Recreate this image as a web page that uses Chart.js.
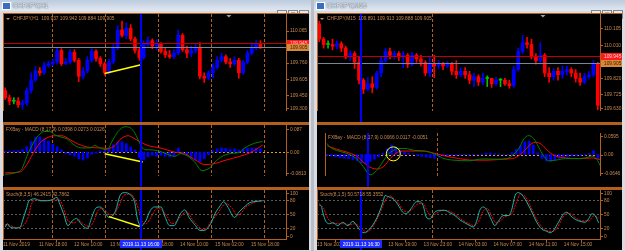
<!DOCTYPE html>
<html lang="en">
<head>
<meta charset="UTF-8">
<title>CHFJPY H1 / M15</title>
<script src="https://cdn.jsdelivr.net/npm/chart.js"></script>
<style>
  body { margin: 0; width: 625px; height: 251px; overflow: hidden; background: #b9bec6; font-family: "Liberation Sans", Arial, sans-serif; }
  .win { position: absolute; top: 0; height: 251px; background: #d8dce2; }
  .tb { position: absolute; left: 0; right: 0; top: 0; height: 11px; background: linear-gradient(#bccbdf, #e2e8f0); }
  .tb .ico { position: absolute; left: 2px; top: 2px; width: 7px; height: 6px; background: #3a6fc0; border: 1px solid #fff; }
  .tb .tt { position: absolute; left: 13px; top: 1px; font-size: 6.6px; line-height: 9px; color: #fff; text-shadow: 0 0 1px #3d4d66, 0 0 1px #3d4d66; }
  .tb .btns { position: absolute; right: 2px; top: 2px; }
  .tb .btns i { display: inline-block; width: 8px; height: 7px; margin-left: 1px; background: #e8e8e8; border: 1px solid #7d8794; font-style: normal; font-size: 6px; line-height: 7px; text-align: center; color: #000; }
  .box { position: absolute; top: 13px; height: 237px; background: #b4601c; }
  .box canvas { position: absolute; left: 0; display: block; background: #000; }
</style>
</head>
<body>

<div class="win" style="left:0;width:311px">
  <div class="tb"><span class="ico"></span><span class="tt">CHFJPY,H1</span><span class="btns"><i>_</i><i>□</i><i>×</i></span></div>
  <div class="box" style="left:3px;width:306px">
    <canvas id="h1Price" width="306" height="108" style="top:1px"></canvas>
    <canvas id="h1Macd" width="306" height="62" style="top:112px"></canvas>
    <canvas id="h1Stoch" width="306" height="60" style="top:177px"></canvas>
  </div>
</div>

<div class="win" style="left:314px;width:311px">
  <div class="tb"><span class="ico"></span><span class="tt">CHFJPY,M15</span><span class="btns"><i>_</i><i>□</i><i>×</i></span></div>
  <div class="box" style="left:3px;width:305px">
    <canvas id="m15Price" width="305" height="108" style="top:1px"></canvas>
    <canvas id="m15Macd" width="305" height="62" style="top:112px"></canvas>
    <canvas id="m15Stoch" width="305" height="60" style="top:177px"></canvas>
  </div>
</div>

<script>
// ---------- H1 window data ----------
const h1Open = [109.495,109.427,109.393,109.393,109.359,109.376,109.495,109.596,109.681,109.664,
  109.732,109.749,109.766,109.876,109.749,109.766,109.859,109.783,109.630,109.681,
  109.783,109.867,109.800,109.749,109.664,109.766,109.901,110.071,110.020,110.088,
  109.986,109.876,109.808,109.935,109.969,109.918,109.935,109.867,109.834,109.817,
  109.851,110.020,109.884,109.851,109.876,109.901,109.630,109.613,109.664,109.715,
  109.783,109.817,109.766,109.749,109.783,109.664,109.766,109.851,109.901,109.935];
const h1High = [109.520,109.452,109.427,109.427,109.402,109.520,109.664,109.724,109.715,109.766,
  109.774,109.791,109.901,109.893,109.800,109.884,109.884,109.800,109.715,109.817,
  109.893,109.884,109.817,109.766,109.791,109.935,110.113,110.155,110.139,110.122,
  110.003,109.901,109.969,110.003,109.986,109.978,109.952,109.901,109.876,109.884,
  110.071,110.037,109.918,109.918,109.935,109.952,109.664,109.681,109.749,109.817,
  109.851,109.834,109.800,109.817,109.800,109.783,109.876,109.952,109.969,109.969];
const h1Low = [109.410,109.359,109.368,109.334,109.317,109.351,109.469,109.580,109.639,109.647,
  109.715,109.732,109.749,109.732,109.740,109.749,109.766,109.580,109.605,109.664,
  109.766,109.774,109.724,109.639,109.647,109.749,109.884,110.003,109.986,109.969,
  109.851,109.783,109.791,109.918,109.893,109.884,109.851,109.808,109.800,109.800,
  109.834,109.867,109.808,109.817,109.851,109.605,109.571,109.596,109.613,109.698,
  109.766,109.749,109.715,109.732,109.613,109.647,109.749,109.834,109.884,109.893];
const h1Close = [109.427,109.393,109.393,109.359,109.376,109.495,109.596,109.681,109.664,109.732,
  109.749,109.766,109.876,109.749,109.766,109.859,109.783,109.630,109.681,109.783,
  109.867,109.800,109.749,109.664,109.766,109.901,110.071,110.020,110.088,109.986,
  109.876,109.808,109.935,109.969,109.918,109.935,109.867,109.834,109.817,109.851,
  110.020,109.884,109.851,109.876,109.901,109.630,109.613,109.664,109.715,109.783,
  109.817,109.766,109.749,109.783,109.664,109.766,109.851,109.901,109.935,109.905];

const h1Hist = [0.003,0.004,0.005,0.006,0.010,0.020,0.040,0.055,0.058,0.050,
  0.042,0.030,0.020,0.008,-0.005,-0.010,-0.015,-0.025,-0.030,-0.022,
  -0.008,-0.004,0.004,0.006,0.015,0.028,0.038,0.040,0.032,0.020,
  0.008,-0.020,-0.030,-0.018,-0.012,-0.015,-0.012,-0.016,-0.018,-0.014,
  0.015,-0.006,-0.012,-0.022,-0.030,-0.036,-0.025,-0.010,0.004,0.012,
  0.016,0.014,0.010,0.012,0.008,0.012,0.014,0.016,0.015,0.013];
const h1MainIdx = [0,2.3,3.9,5,6.4,7.6,9.2,10.3,11.5,13.1,14.3,16.1,17.7,19.6,20.7,21.9,23.5,24.9,26.1,27.7,
  28.8,30,31.1,32.3,33.4,35.8,38.1,39.2,40.4,41.5,43.8,45.5,47.3,48.5,50.1,51.9,54.2,55.4,57.7,59.5];
const h1Main = [-0.084,-0.078,-0.062,-0.016,0.031,0.062,0.078,0.078,0.065,0.056,0.050,0.025,0.016,0.016,0.025,0.016,0.009,0.047,0.078,0.096,
  0.093,0.071,0.034,0.009,0.009,0.003,-0.012,-0.016,-0.006,-0.009,-0.037,-0.070,-0.059,-0.037,-0.016,-0.006,0.000,0.016,0.034,0.040];
const h1SigIdx = [0,3.4,5,6.4,8,9.9,11.5,13.1,15,16.8,19.1,21.9,23.7,25.4,26.5,28.4,30,31.1,33,35.8,
  39.2,41.5,43.8,46.1,48.5,50.8,54.2,56.5,58.8,59.5];
const h1Sig = [-0.078,-0.075,-0.047,-0.006,0.034,0.056,0.062,0.062,0.047,0.031,0.019,0.016,0.014,0.025,0.047,0.062,0.050,0.040,0.025,0.016,
  0.000,-0.006,-0.028,-0.047,-0.043,-0.031,-0.016,-0.003,0.019,0.027];

const h1StMainIdx = [0,0.5,1,2.5,3.5,4,5,5.5,7,8,9,10.5,12,12.5,13.5,14.5,15.5,16.5,17.5,19,
  20,21,22,23,24,25.5,26.5,27.5,29,30,30.5,31.5,32,32.5,33.5,34.5,36,37,38,39,
  40.5,41.5,42.5,44,45,46,47.5,48.5,49.5,50.5,51.5,53,54,55.5,56.5,57.5,59.5];
const h1StMain = [23,30,24,21,23,36,64,78,82,78,78,79,85,74,51,26,36,41,30,20,
  43,63,65,54,43,57,88,95,90,72,43,24,30,36,57,65,65,43,26,26,
  51,59,43,26,16,16,30,51,65,76,64,43,54,67,74,76,78];
const h1StSigIdx = [0,1,2.5,4,5.5,6,7.5,9,11.5,12.5,13.5,14.5,16,17,18,19.5,20.5,21.5,22.5,24,
  25,26.5,27.5,29,30,31,32,32.5,34,35,36,37.5,38.5,39.5,41,42,43,44.5,45.5,46.5,
  47.5,49,50,51,52.5,53.5,54.5,55.5,57,58,59.5];
const h1StSig = [28,27,22,25,48,70,80,78,80,80,62,36,32,38,30,24,36,58,62,50,
  48,72,90,92,80,56,30,30,48,62,60,44,30,34,50,55,42,26,18,20,
  34,50,64,72,62,48,52,64,72,76,78];

const h1TimeIdx = [-0.5, 7.8, 15.9, 24.2, 32.3, 40.4, 48.5, 56.8];
const h1TimeText = ['11 Nov 2019', '11 Nov 18:00', '12 Nov 10:00', '13 Nov 02:00', '13 Nov 18:00', '14 Nov 10:00', '15 Nov 02:00', '15 Nov 18:00'];
const h1GridIdx = [10.8, 23.1, 35.3, 47.6, 59.8];
const h1PriceTicks = [110.065, 109.915, 109.760, 109.605, 109.450, 109.300];
const h1MacdTicks = [0.087, 0, -0.0813];
const h1MacdText = ['0.087', '0.00', '-0.0813'];
const h1TrendPrice = [[23.0, 109.656], [31.4, 109.740]];
const h1TrendMacd = [[23.0, -0.006], [31.8, -0.037]];
const h1TrendStoch = [[24.0, 44.8], [31.1, 24.1]];

// ---------- M15 window data ----------
const m15Open = [110.131,110.043,110.012,110.012,110.002,110.017,109.991,109.940,109.960,109.909,
  109.806,109.754,109.785,109.764,109.847,109.919,109.971,109.950,109.960,109.940,
  109.950,109.898,109.950,109.929,109.909,109.847,109.898,109.888,109.898,109.888,
  109.898,109.857,109.837,109.857,109.837,109.806,109.826,109.795,109.816,109.816,
  109.785,109.806,109.806,109.785,109.775,109.867,109.971,110.022,110.012,109.940,
  109.919,109.950,109.847,109.826,109.857,109.837,109.857,109.867,109.847,109.816,
  109.795,109.826,109.837,109.898];
const m15High = [110.146,110.053,110.033,110.043,110.033,110.028,110.002,109.976,109.971,109.940,
  109.816,109.821,109.826,109.857,109.940,109.991,109.991,109.976,109.971,109.971,
  109.960,109.966,109.960,109.950,109.919,109.940,109.950,109.919,109.909,109.914,
  109.909,109.919,109.878,109.878,109.857,109.847,109.837,109.847,109.831,109.816,
  109.821,109.816,109.816,109.806,109.888,109.991,110.064,110.053,110.043,109.960,
  110.022,109.960,109.878,109.873,109.878,109.888,109.888,109.878,109.867,109.847,
  109.847,109.857,109.919,109.909];
const m15Low = [110.028,109.991,109.991,109.981,109.986,109.971,109.929,109.919,109.873,109.785,
  109.728,109.744,109.733,109.754,109.826,109.909,109.929,109.929,109.919,109.878,
  109.878,109.888,109.909,109.888,109.831,109.826,109.821,109.873,109.867,109.878,
  109.837,109.816,109.826,109.816,109.785,109.769,109.775,109.780,109.769,109.764,
  109.775,109.769,109.775,109.759,109.764,109.857,109.960,109.991,109.929,109.898,
  109.898,109.826,109.795,109.806,109.806,109.816,109.837,109.826,109.795,109.775,
  109.785,109.816,109.826,109.635];
const m15Close = [110.043,110.012,110.012,110.002,110.017,109.991,109.940,109.960,109.909,109.806,
  109.754,109.785,109.764,109.847,109.919,109.971,109.950,109.960,109.940,109.950,
  109.898,109.950,109.929,109.909,109.847,109.898,109.888,109.898,109.888,109.898,
  109.857,109.837,109.857,109.837,109.806,109.826,109.795,109.816,109.816,109.785,
  109.806,109.806,109.785,109.775,109.867,109.971,110.022,110.012,109.940,109.919,
  109.950,109.847,109.826,109.857,109.837,109.857,109.867,109.847,109.816,109.795,
  109.826,109.837,109.898,109.661];

const m15Hist = [-0.003,-0.005,-0.008,-0.010,-0.012,-0.013,-0.016,-0.020,-0.026,-0.030,
  -0.022,-0.015,-0.008,0.004,0.018,0.030,0.024,0.014,0.007,0.004,
  0.002,-0.004,-0.006,-0.008,-0.010,-0.012,-0.008,-0.004,-0.003,-0.002,
  -0.003,-0.002,-0.001,-0.002,0.001,-0.001,0.002,0.004,0.005,0.003,
  0.002,0.001,0.001,0.006,0.016,0.028,0.040,0.042,0.030,0.005,
  -0.012,-0.020,-0.022,-0.018,-0.012,-0.008,-0.006,-0.004,-0.003,-0.002,
  -0.002,0.004,0.012,-0.012];
const m15MainIdx = [0,0.6,2.2,4.5,6.8,8.4,9.5,10,10.6,11.8,13.1,14.3,15.4,16.5,18.1,20.4,22.6,24.9,27.2,29.5,
  32.9,36.3,39.7,41.9,43.5,44.7,45.8,46.9,48.1,49.2,50.4,51.5,53.2,55.5,57.8,60.1,61.6,62.8,63.5];
const m15Main = [0.035,0.024,0.013,0.004,-0.013,-0.038,-0.060,-0.064,-0.062,-0.046,-0.020,0.002,0.013,0.019,0.019,0.013,0.011,0.002,-0.013,-0.018,
  -0.020,-0.014,-0.015,-0.013,0.002,0.021,0.050,0.060,0.050,0.024,-0.005,-0.020,-0.018,-0.013,-0.013,-0.011,-0.005,-0.016,-0.035];
const m15SigIdx = [0,2.2,4.5,6.8,8.6,10.2,11.8,13.1,14.7,15.8,17.4,19.2,22.6,24.9,27.2,30.6,34,37.4,40.8,43.1,
  44.9,46.5,47.6,48.5,49.9,51.5,53.2,55.5,58.9,61.6,63.5];
const m15Sig = [0.028,0.017,0.008,-0.005,-0.027,-0.042,-0.046,-0.038,-0.013,0.002,0.011,0.011,0.011,0.004,-0.004,-0.013,-0.018,-0.018,-0.015,-0.013,
  -0.001,0.021,0.035,0.039,0.032,0.010,-0.005,-0.011,-0.013,-0.011,-0.016];

const m15StMainIdx = [0,0.5,0.8,1.5,2.3,3.1,4.2,5.3,6.5,7.6,8.7,9.5,10.2,11.4,12.5,13.6,14.4,14.9,15.5,16.7,
  17.8,18.9,19.7,20.8,22,22.7,23.5,24.2,25,26.1,27.3,28.4,29.5,30.7,31.8,32.9,34.1,34.8,35.6,36.3,
  37.1,37.8,39,39.7,40.5,41.6,42.8,43.5,44.3,45,45.9,46.9,48.1,49.2,50.3,51.5,52.2,53,54.1,55.3,
  56,56.8,57.9,59,60.2,60.9,61.7,62.4,63.2];
const m15StMain = [69,66,54,35,30,32,26,33,26,35,23,14,11,19,33,54,75,89,87,82,
  70,54,51,62,76,76,68,44,40,54,58,58,53,47,38,32,26,23,35,58,
  65,60,37,26,35,47,47,58,89,95,90,76,54,33,19,14,11,16,33,51,
  54,47,39,35,33,40,51,47,32];
const m15StSigIdx = [0,1,2,3,4.5,5.5,7,8,9,10,11,12,13,14,15,16,17,18,19,20,
  21,22.5,23.5,24.5,25.5,26.5,28,29.5,31,32,33.5,35,36,37,38,39,40,41,42,43.5,
  44.5,45.5,46.5,47.5,48.5,49.5,50.5,52,53,54,55,56,57,58,59.5,61,62,63.2];
const m15StSig = [72,62,40,32,30,30,28,30,25,16,13,22,38,58,80,88,82,72,58,55,
  60,72,72,55,44,52,58,56,48,40,32,26,34,55,62,46,32,36,45,50,
  72,92,88,72,52,34,22,14,14,24,42,52,50,42,36,36,46,42];

const m15TimeIdx = [-0.5, 7.7, 15.6, 23.6, 31.5, 39.4, 47.4, 55.3];
const m15TimeText = ['13 Nov 2019', '13 Nov 15:00', '13 Nov 19:00', '13 Nov 23:00', '14 Nov 03:00', '14 Nov 07:00', '14 Nov 11:00', '14 Nov 15:00'];
const m15GridIdx = [25.6];
const m15PriceTicks = [110.105, 110.010, 109.915, 109.820, 109.725, 109.630];
const m15MacdTicks = [0.0595, 0, -0.0646];
const m15MacdText = ['0.0595', '0.00', '-0.0646'];
const m15Circle = [[15.4, 0.002]];

const stochTicks = [100, 80, 50, 20, 0];
const stochLevels = [80, 50, 20];

// ---------- look ----------
const FAM = '"Liberation Sans", Arial, sans-serif';
const FONT = '4.8px ' + FAM;
const ORANGE = '#b4601c';
const TXT = '#c98b50';
const BULL = '#0000ff', BEAR = '#ff0000', DOJI = '#00c000';

function candles(o, h, l, c) {
  const col = o.map((v, i) => c[i] > v ? BULL : c[i] < v ? BEAR : DOJI);
  return [
    { type: 'bar', order: 3, grouped: false, barThickness: 1, backgroundColor: col,
      data: l.map((v, i) => ({ x: i, y: [v, h[i]] })) },
    { type: 'bar', order: 2, grouped: false, barThickness: 3, minBarLength: 1, backgroundColor: col,
      data: o.map((v, i) => ({ x: i, y: [v, c[i]] })) }
  ];
}
function histo(vals) {
  return { type: 'bar', order: 2, grouped: false, barThickness: 2, backgroundColor: '#0000ff',
    data: vals.map((v, i) => ({ x: i, y: v })) };
}
function curve(xs, ys, color, dash) {
  return { type: 'line', order: 1, data: xs.map((v, i) => ({ x: v, y: ys[i] })), borderColor: color,
    borderWidth: 1, borderDash: dash || [], pointRadius: 0, cubicInterpolationMode: 'monotone', fill: false };
}
function trend(pts) {
  return { type: 'line', order: 0, data: pts.map(p => ({ x: p[0], y: p[1] })), borderColor: '#ffff00',
    borderWidth: 1.5, pointRadius: 0, tension: 0, fill: false };
}

// MetaTrader style decorations (grid, levels, cursor, axis labels, captions)
function mtDecor(cfg) {
  return {
    id: 'mtDecor',
    beforeDatasetsDraw(chart) {
      const { ctx, chartArea: a, scales: { x, y } } = chart;
      ctx.save();
      ctx.beginPath(); ctx.rect(a.left, a.top, a.right - a.left, a.bottom - a.top); ctx.clip();
      ctx.lineWidth = 1;
      ctx.setLineDash([3, 2]);
      ctx.strokeStyle = ORANGE;
      (cfg.grid || []).forEach(v => {
        const px = Math.round(x.getPixelForValue(v)) + 0.5;
        ctx.beginPath(); ctx.moveTo(px, a.top); ctx.lineTo(px, a.bottom); ctx.stroke();
      });
      ctx.setLineDash([2, 2]);
      (cfg.levels || []).forEach(v => {
        ctx.strokeStyle = cfg.levelColor;
        const py = Math.round(y.getPixelForValue(v)) + 0.5;
        ctx.beginPath(); ctx.moveTo(a.left, py); ctx.lineTo(a.right, py); ctx.stroke();
      });
      ctx.restore();
    },
    afterDatasetsDraw(chart) {
      const { ctx, chartArea: a, scales: { x, y } } = chart;
      ctx.save();
      // bid / ask lines
      (cfg.hlines || []).forEach(l => {
        const py = Math.round(y.getPixelForValue(l.value)) + 0.5;
        ctx.strokeStyle = l.line; ctx.lineWidth = 1;
        ctx.beginPath(); ctx.moveTo(a.left, py); ctx.lineTo(a.right, py); ctx.stroke();
      });
      // vertical cursor line
      if (cfg.cursor != null) {
        const px = Math.round(x.getPixelForValue(cfg.cursor));
        ctx.fillStyle = '#0000ff';
        ctx.fillRect(px - 1, a.top, 2, chart.height - a.top);
      }
      // pane borders
      ctx.fillStyle = ORANGE;
      ctx.fillRect(a.left, a.top, 1, a.bottom - a.top);
      ctx.fillRect(a.right, a.top, 1, a.bottom - a.top);
      if (cfg.xLabels) ctx.fillRect(a.left, a.bottom, a.right - a.left + 1, 1);
      // right axis labels
      ctx.font = FONT; ctx.textBaseline = 'middle'; ctx.textAlign = 'left';
      cfg.yTicks.forEach((v, i) => {
        let py = y.getPixelForValue(v);
        py = Math.min(Math.max(py, a.top + 3), a.bottom - 3);
        ctx.fillStyle = ORANGE;
        ctx.fillRect(a.right + 1, Math.round(py), 2, 1);
        ctx.fillStyle = TXT;
        ctx.fillText(cfg.yText[i], a.right + 4, py + 0.5);
      });
      (cfg.hlines || []).forEach(l => {
        const py = y.getPixelForValue(l.value);
        ctx.fillStyle = l.box;
        ctx.fillRect(a.right + 1, Math.round(py) - 3, chart.width - a.right - 1, 7);
        ctx.fillStyle = l.text;
        ctx.fillText(l.value.toFixed(3), a.right + 4, py + 0.5);
      });
      // pane caption
      let cx = a.left + 3;
      if (cfg.arrow) {
        ctx.fillStyle = TXT;
        ctx.beginPath(); ctx.moveTo(a.left + 3, a.top + 4); ctx.lineTo(a.left + 7, a.top + 4); ctx.lineTo(a.left + 5, a.top + 6); ctx.fill();
        cx = a.left + 10;
      }
      ctx.fillStyle = TXT;
      ctx.fillText(cfg.caption, cx, a.top + 5);
      // chart shift marker
      if (cfg.shift != null) {
        const sx = x.getPixelForValue(cfg.shift);
        ctx.fillStyle = '#9aa3ad';
        ctx.beginPath(); ctx.moveTo(sx - 2.5, a.top + 1); ctx.lineTo(sx + 2.5, a.top + 1); ctx.lineTo(sx, a.top + 3.5); ctx.fill();
      }
      // time of the cursor on the time axis
      if (cfg.cursorText) {
        const px = x.getPixelForValue(cfg.cursor);
        const w = ctx.measureText(cfg.cursorText).width + 5;
        ctx.fillStyle = '#1c2cff';
        ctx.fillRect(Math.round(px - w / 2), a.bottom + 1, Math.round(w), 8);
        ctx.fillStyle = '#ffffff'; ctx.textAlign = 'center';
        ctx.fillText(cfg.cursorText, px, a.bottom + 5.5);
      }
      ctx.restore();
    }
  };
}

function pane(id, datasets, s) {
  return new Chart(document.getElementById(id), {
    type: 'bar',
    data: { datasets },
    options: {
      responsive: false, animation: false, events: [],
      layout: { padding: 0 },
      plugins: { legend: { display: false }, tooltip: { enabled: false } },
      scales: {
        x: {
          type: 'linear', min: -0.5, max: s.slots, offset: false, display: !!s.deco.xLabels,
          afterBuildTicks: sc => { if (s.deco.xLabels) sc.ticks = s.deco.xLabels.idx.map(v => ({ value: v })); },
          afterFit: sc => { sc.height = 11; },
          ticks: { autoSkip: false, maxRotation: 0, align: 'start', padding: 0, color: TXT,
            font: { family: FAM, size: 4.8 },
            callback: (v, i) => s.deco.xLabels ? s.deco.xLabels.text[i] : '' },
          grid: { drawOnChartArea: false, drawTicks: true, tickLength: 3, color: ORANGE },
          border: { display: false }
        },
        y: {
          position: 'right', min: s.min, max: s.max,
          afterFit: sc => { sc.width = s.axisW; },
          ticks: { display: false }, grid: { display: false }, border: { display: false }
        }
      }
    },
    plugins: [mtDecor(s.deco)]
  });
}

// ---------- H1 window ----------
pane('h1Price', [...candles(h1Open, h1High, h1Low, h1Close), trend(h1TrendPrice)], {
  slots: 64.9, min: 109.300, max: 110.223, axisW: 23,
  deco: { grid: h1GridIdx, cursor: 31.4, shift: 51.7, arrow: true,
    caption: 'CHFJPY,H1  109.937 109.942 109.884 109.905',
    yTicks: h1PriceTicks, yText: h1PriceTicks.map(v => v.toFixed(3)),
    hlines: [{ value: 109.945, line: '#c00000', box: '#ff1a1a', text: '#ffd0d0' },
             { value: 109.905, line: '#778899', box: '#d8883a', text: '#402000' }] }
});
pane('h1Macd', [histo(h1Hist), curve(h1MainIdx, h1Main, '#008000'), curve(h1SigIdx, h1Sig, '#ff0000'), trend(h1TrendMacd)], {
  slots: 64.9, min: -0.0901, max: 0.1025, axisW: 23,
  deco: { grid: h1GridIdx, cursor: 31.4, levels: [0], levelColor: '#e0a020',
    caption: 'FXBay - MACD (8,17,9) 0.0398 0.0273 0.0126', yTicks: h1MacdTicks, yText: h1MacdText }
});
pane('h1Stoch', [curve(h1StMainIdx, h1StMain, '#20b2aa'), curve(h1StSigIdx, h1StSig, '#ff0000', [2, 1]), trend(h1TrendStoch)], {
  slots: 64.9, min: -2, max: 100.5, axisW: 23,
  deco: { grid: h1GridIdx, cursor: 31.4, levels: stochLevels, levelColor: '#5a5a5a',
    caption: 'Stoch(8,3,5) 46.2415 42.7862', yTicks: stochTicks, yText: stochTicks.map(String),
    xLabels: { idx: h1TimeIdx, text: h1TimeText }, cursorText: '2019.11.13 16:00' }
});

// ---------- M15 window ----------
pane('m15Price', candles(m15Open, m15High, m15Low, m15Close), {
  slots: 63.5, min: 109.628, max: 110.188, axisW: 22,
  deco: { grid: m15GridIdx, cursor: 9.5, shift: 50.6, arrow: true,
    caption: 'CHFJPY,M15  109.891 109.913 109.888 109.905',
    yTicks: m15PriceTicks, yText: m15PriceTicks.map(v => v.toFixed(3)),
    hlines: [{ value: 109.945, line: '#c00000', box: '#ff1a1a', text: '#ffd0d0' },
             { value: 109.905, line: '#778899', box: '#d8883a', text: '#402000' }] }
});
pane('m15Macd', [histo(m15Hist), curve(m15MainIdx, m15Main, '#008000'), curve(m15SigIdx, m15Sig, '#ff0000'),
  { type: 'scatter', order: 0, data: m15Circle.map(p => ({ x: p[0], y: p[1] })), pointRadius: 7,
    pointBackgroundColor: 'rgba(0,0,0,0)', pointBorderColor: '#ffff00', pointBorderWidth: 1 }], {
  slots: 63.5, min: -0.0683, max: 0.0683, axisW: 22,
  deco: { grid: m15GridIdx, cursor: 9.5, levels: [0], levelColor: '#e0a020',
    caption: 'FXBay - MACD (8,17,9) 0.0066 0.0117 -0.0051', yTicks: m15MacdTicks, yText: m15MacdText }
});
pane('m15Stoch', [curve(m15StMainIdx, m15StMain, '#20b2aa'), curve(m15StSigIdx, m15StSig, '#ff0000', [2, 1])], {
  slots: 63.5, min: -2, max: 100.5, axisW: 22,
  deco: { grid: m15GridIdx, cursor: 9.5, levels: stochLevels, levelColor: '#5a5a5a',
    caption: 'Stoch(8,1,5) 50.5718 55.3552', yTicks: stochTicks, yText: stochTicks.map(String),
    xLabels: { idx: m15TimeIdx, text: m15TimeText }, cursorText: '2019.11.13 16:30' }
});
</script>
</body>
</html>
